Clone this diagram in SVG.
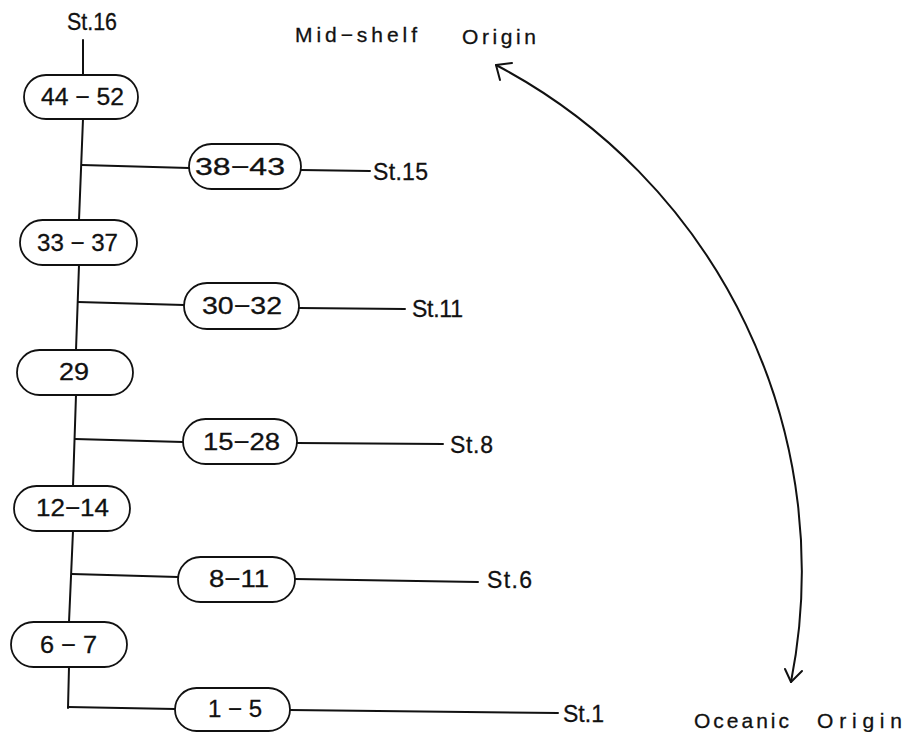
<svg xmlns="http://www.w3.org/2000/svg" width="906" height="732" viewBox="0 0 906 732">
<style>
  .node rect { fill: #fff; stroke: #111; stroke-width: 1.8; }
  .node text { font-family: "Liberation Sans", Arial, sans-serif; font-size: 24px; fill: #111; stroke: #111; stroke-width: 0.3; }
  .lbl { font-family: "Liberation Sans", Arial, sans-serif; font-size: 23px; fill: #111; stroke: #111; stroke-width: 0.3; }
  .cap { font-family: "Liberation Sans", Arial, sans-serif; font-size: 21px; fill: #111; stroke: #111; stroke-width: 0.3; }
  .conn line, .conn path, .conn polyline { stroke: #111; stroke-width: 2; fill: none; stroke-linecap: round; stroke-linejoin: round; }
</style>
<rect width="906" height="732" fill="#fff"/>
<g id="connectors" class="conn">
  <line x1="83" y1="40" x2="83" y2="75"/>
  <line x1="83" y1="119" x2="79" y2="220"/>
  <line x1="79" y1="265" x2="76" y2="350"/>
  <line x1="76" y1="395" x2="73" y2="486"/>
  <line x1="73" y1="531" x2="69" y2="622"/>
  <line x1="69" y1="667" x2="68" y2="708"/>
  <line x1="82" y1="165" x2="189" y2="168"/>
  <line x1="78" y1="302" x2="184" y2="305"/>
  <line x1="75" y1="439" x2="183" y2="442"/>
  <line x1="72" y1="574" x2="178" y2="577"/>
  <line x1="68" y1="707" x2="175" y2="709"/>
  <line x1="301" y1="170" x2="370" y2="171"/>
  <line x1="299" y1="308" x2="405" y2="309"/>
  <line x1="297" y1="443" x2="443" y2="444"/>
  <line x1="295" y1="579" x2="478" y2="582"/>
  <line x1="290" y1="710" x2="558" y2="713"/>
  <path d="M496,65 A572,572 0 0 1 791,682"/>
  <polyline points="512,63 496,65 500,80"/>
  <polyline points="785,669 791,682 802,671"/>
</g>
<g id="n44_52" class="node"><rect x="24" y="75" width="114" height="44" rx="22"/><text x="41" y="105" textLength="83" lengthAdjust="spacingAndGlyphs">44 − 52</text></g>
<g id="n38_43" class="node"><rect x="189" y="144" width="112" height="45" rx="22.5"/><text x="195" y="175" textLength="90" lengthAdjust="spacingAndGlyphs">38−43</text></g>
<g id="n33_37" class="node"><rect x="20" y="220" width="117" height="45" rx="22.5"/><text x="37" y="251" textLength="81" lengthAdjust="spacingAndGlyphs">33 − 37</text></g>
<g id="n30_32" class="node"><rect x="184" y="283" width="115" height="46" rx="23"/><text x="202" y="314" textLength="80" lengthAdjust="spacingAndGlyphs">30−32</text></g>
<g id="n29" class="node"><rect x="17" y="350" width="116" height="45" rx="22.5"/><text x="59" y="380" textLength="30" lengthAdjust="spacingAndGlyphs">29</text></g>
<g id="n15_28" class="node"><rect x="183" y="419" width="114" height="45" rx="22.5"/><text x="203" y="450" textLength="77" lengthAdjust="spacingAndGlyphs">15−28</text></g>
<g id="n12_14" class="node"><rect x="14" y="486" width="116" height="45" rx="22.5"/><text x="36" y="516" textLength="73" lengthAdjust="spacingAndGlyphs">12−14</text></g>
<g id="n8_11" class="node"><rect x="178" y="557" width="117" height="45" rx="22.5"/><text x="209" y="587" textLength="60" lengthAdjust="spacingAndGlyphs">8−11</text></g>
<g id="n6_7" class="node"><rect x="11" y="622" width="116" height="45" rx="22.5"/><text x="40" y="653" textLength="57" lengthAdjust="spacingAndGlyphs">6 − 7</text></g>
<g id="n1_5" class="node"><rect x="175" y="688" width="115" height="43" rx="21.5"/><text x="208" y="717" textLength="54" lengthAdjust="spacingAndGlyphs">1 − 5</text></g>
<g id="labels">
  <text class="lbl" x="67" y="30" textLength="50" lengthAdjust="spacingAndGlyphs">St.16</text>
  <text class="lbl" x="373" y="180" textLength="55">St.15</text>
  <text class="lbl" x="412" y="317" textLength="51">St.11</text>
  <text class="lbl" x="450" y="453" textLength="43">St.8</text>
  <text class="lbl" x="487" y="588" textLength="45">St.6</text>
  <text class="lbl" x="563" y="722" textLength="41">St.1</text>
  <text class="cap" x="295" y="42" textLength="122">Mid−shelf</text>
  <text class="cap" x="462" y="44" textLength="74">Origin</text>
  <text class="cap" x="694" y="728" textLength="95">Oceanic</text>
  <text class="cap" x="817" y="728" textLength="85">Origin</text>
</g>
</svg>
